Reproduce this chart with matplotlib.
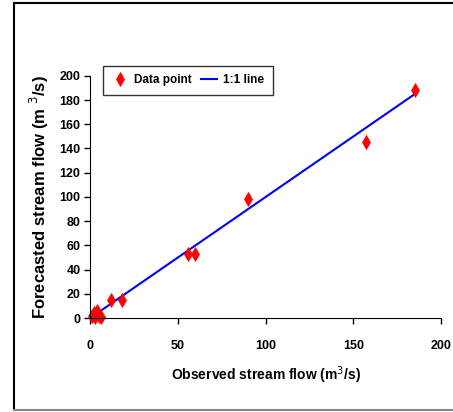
import matplotlib.pyplot as plt
from matplotlib.lines import Line2D

plt.rcParams['font.family'] = ['Liberation Sans Narrow', 'Liberation Sans', 'DejaVu Sans']

observed = [1, 2, 3, 4, 5, 6, 12, 18, 56, 60, 90, 157, 185]
forecasted = [2, 4, 1, 6, 2, 0.5, 15, 15, 53, 53, 98, 145, 188]
line_x = [0, 185]
line_y = [0, 185]

fig = plt.figure(figsize=(4.53, 4.12), dpi=100)
ax = fig.add_axes([0.199, 0.228, 0.775, 0.588])

ax.plot(line_x, line_y, color="#0000FF", linewidth=1.5, label="1:1 line")
ax.plot(observed, forecasted, linestyle="", marker="d", markersize=7.5,
        markeredgewidth=0.5, color="#FF0000", label="Data point", clip_on=False)

ax.set_xlim(0, 200)
ax.set_ylim(0, 200)
ax.set_xticks(range(0, 201, 50))
ax.set_yticks(range(0, 201, 20))
ax.spines['top'].set_visible(False)
ax.spines['right'].set_visible(False)
ax.tick_params(direction="out", length=4, width=1, labelsize=9, pad=12, axis="x")
ax.tick_params(direction="out", length=4, width=1, labelsize=9, pad=3, axis="y")
for lab in ax.get_xticklabels() + ax.get_yticklabels():
    lab.set_fontweight("bold")

ax.set_xlabel("Observed stream flow (m$^3$/s)", fontsize=10, fontweight="bold", labelpad=9)
ax.set_ylabel("Forecasted stream flow (m $^3$/s)", fontsize=12, fontweight="bold", labelpad=6)

handles, labels = ax.get_legend_handles_labels()
leg = ax.legend(handles[::-1], labels[::-1], loc="upper left", ncol=2, frameon=True,
                fancybox=False, edgecolor="black", fontsize=8.5, handlelength=1.4,
                handletextpad=0.5, columnspacing=0.8, borderpad=0.7, borderaxespad=0,
                bbox_to_anchor=(0.037, 1.04))
for t in leg.get_texts():
    t.set_fontweight("bold")
leg.get_frame().set_linewidth(1)

# outer frame
fig.add_artist(Line2D([14 / 453, 1], [1 - 3 / 412, 1 - 3 / 412], color="black", linewidth=1.5))
fig.add_artist(Line2D([14 / 453, 14 / 453], [2 / 412, 1 - 3 / 412], color="black", linewidth=1.5))
fig.add_artist(Line2D([14 / 453, 1], [2 / 412, 2 / 412], color="#888888", linewidth=1.5))

fig.savefig("out.png", dpi=100)
